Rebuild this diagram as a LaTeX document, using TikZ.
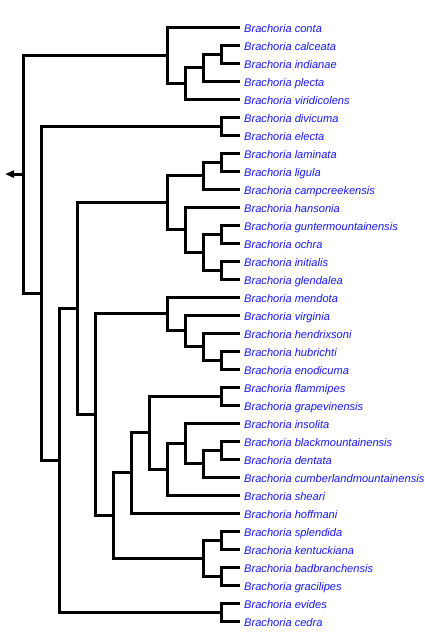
\documentclass[tikz,border=0pt]{standalone}
\usepackage{fontspec}
\setmainfont{Liberation Sans}
\usetikzlibrary{arrows.meta}
\usetikzlibrary{positioning}

\definecolor{taxblue}{RGB}{20,20,255}

\tikzset{
  branch/.style={line width=3pt, line join=miter},
  taxon/.style={anchor=west, inner xsep=4pt, inner ysep=0pt, text height=10pt, text depth=0pt,
    font=\fontsize{11.1}{13}\selectfont\itshape, text=taxblue}
}

\begin{document}
\begin{tikzpicture}[x=1pt,y=-1pt]

\useasboundingbox (0,0) rectangle (425,633);

% leaves
\foreach \name [count=\i from 0] in {conta, calceata, indianae, plecta, viridicolens,
  divicuma, electa, laminata, ligula, campcreekensis, hansonia, guntermountainensis,
  ochra, initialis, glendalea, mendota, virginia, hendrixsoni, hubrichti, enodicuma,
  flammipes, grapevinensis, insolita, blackmountainensis, dentata,
  cumberlandmountainensis, sheari, hoffmani, splendida, kentuckiana, badbranchensis,
  gracilipes, evides, cedra}
  \node[taxon] (\name) at (240, 27+18*\i) {Brachoria \name};

% inner nodes
\coordinate (a1) at (221,54);
\coordinate (a2) at (203,67.5);
\coordinate (a3) at (185,83.3);
\coordinate (A) at (167,55.1);
\coordinate (b1) at (221,126);
\coordinate (e1) at (221,162);
\coordinate (e2) at (203,175.5);
\coordinate (e3) at (221,234);
\coordinate (e4) at (221,270);
\coordinate (e5) at (203,252);
\coordinate (e6) at (185,229.5);
\coordinate (E) at (167,202.5);
\coordinate (g1) at (221,360);
\coordinate (g2) at (203,346.5);
\coordinate (g3) at (185,330.8);
\coordinate (G) at (167,313.9);
\coordinate (h1) at (221,396);
\coordinate (h2) at (221,450);
\coordinate (h3) at (203,463.5);
\coordinate (h4) at (185,443.3);
\coordinate (h5) at (167,469.1);
\coordinate (h6) at (149,432.6);
\coordinate (h7) at (131,472.8);
\coordinate (h8) at (221,540);
\coordinate (h9) at (221,576);
\coordinate (h10) at (203,558);
\coordinate (H) at (113,515.4);
\coordinate (F) at (95,414.6);
\coordinate (D) at (77,308.6);
\coordinate (c1) at (221,612);
\coordinate (C) at (59,460.3);
\coordinate (B) at (41,293.1);
\coordinate (root) at (23,174.1);
\coordinate (stem) at (5,174.1);

% top clade
\draw[branch] (calceata.west) -| (a1) |- (indianae.west);
\draw[branch] (a1) -| (a2) |- (plecta.west);
\draw[branch] (a2) -| (a3) |- (viridicolens.west);
\draw[branch] (conta.west) -| (A) |- (a3);

% divicuma, electa
\draw[branch] (divicuma.west) -| (b1) |- (electa.west);

% laminata to glendalea
\draw[branch] (laminata.west) -| (e1) |- (ligula.west);
\draw[branch] (e1) -| (e2) |- (campcreekensis.west);
\draw[branch] (guntermountainensis.west) -| (e3) |- (ochra.west);
\draw[branch] (initialis.west) -| (e4) |- (glendalea.west);
\draw[branch] (e3) -| (e5) |- (e4);
\draw[branch] (hansonia.west) -| (e6) |- (e5);
\draw[branch] (e2) -| (E) |- (e6);

% mendota to enodicuma
\draw[branch] (hubrichti.west) -| (g1) |- (enodicuma.west);
\draw[branch] (hendrixsoni.west) -| (g2) |- (g1);
\draw[branch] (virginia.west) -| (g3) |- (g2);
\draw[branch] (mendota.west) -| (G) |- (g3);

% flammipes to gracilipes
\draw[branch] (flammipes.west) -| (h1) |- (grapevinensis.west);
\draw[branch] (blackmountainensis.west) -| (h2) |- (dentata.west);
\draw[branch] (h2) -| (h3) |- (cumberlandmountainensis.west);
\draw[branch] (insolita.west) -| (h4) |- (h3);
\draw[branch] (h4) -| (h5) |- (sheari.west);
\draw[branch] (h1) -| (h6) |- (h5);
\draw[branch] (h6) -| (h7) |- (hoffmani.west);
\draw[branch] (splendida.west) -| (h8) |- (kentuckiana.west);
\draw[branch] (badbranchensis.west) -| (h9) |- (gracilipes.west);
\draw[branch] (h8) -| (h10) |- (h9);
\draw[branch] (h7) -| (H) |- (h10);

% backbone
\draw[branch] (G) -| (F) |- (H);
\draw[branch] (E) -| (D) |- (F);
\draw[branch] (evides.west) -| (c1) |- (cedra.west);
\draw[branch] (D) -| (C) |- (c1);
\draw[branch] (b1) -| (B) |- (C);
\draw[branch] (A) -| (root) |- (B);

% root arrow
\draw[branch, -{Triangle[length=9pt, width=7pt]}] (root) -- (stem);

\end{tikzpicture}
\end{document}
